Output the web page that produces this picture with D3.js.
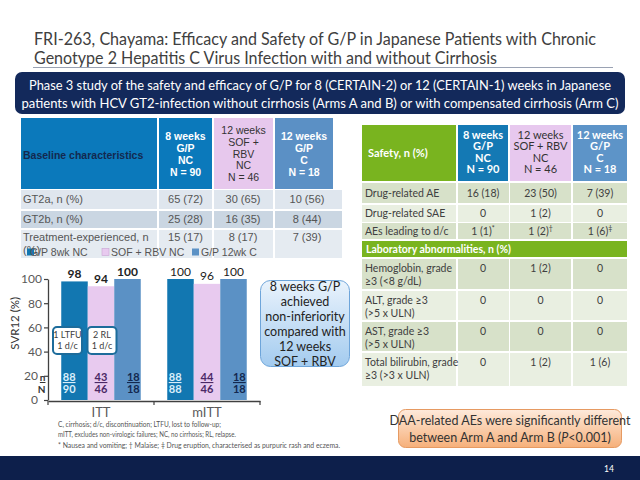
<!DOCTYPE html>
<html><head><meta charset="utf-8">
<script src="https://cdn.jsdelivr.net/npm/d3@7"></script>
<style>html,body{margin:0;padding:0;background:#fff}svg{display:block}</style>
</head><body>
<svg id="c" width="640" height="480"></svg>
<script>
// ---------------- DATA ----------------
const titleLines = ["FRI-263, Chayama: Efficacy and Safety of G/P in Japanese Patients with Chronic",
  "Genotype 2 Hepatitis C Virus Infection with and without Cirrhosis"];
const bannerLines = ["Phase 3 study of the safety and efficacy of G/P for 8 (CERTAIN-2) or 12 (CERTAIN-1) weeks in Japanese",
  "patients with HCV GT2-infection without cirrhosis (Arms A and B) or with compensated cirrhosis (Arm C)"];

const groups = ["ITT", "mITT"];
const arms = ["G/P 8wk NC", "SOF + RBV NC", "G/P 12wk C"];
const svrITT = [98, 94, 100];
const svrMITT = [100, 96, 100];
const nITT = [88, 43, 18];
const totalITT = [90, 46, 18];
const nMITT = [88, 44, 18];
const totalMITT = [88, 46, 18];
const yTicks = [0, 20, 40, 60, 80, 100];
const ittNotes = [["1 LTFU", "1 d/c"], ["2 RL", "1 d/c"]];
const calloutLines = ["8 weeks G/P", "achieved", "non-inferiority", "compared with", "12 weeks", "SOF + RBV"];

const baselineHeaders = [["Baseline characteristics"], ["8 weeks", "G/P", "NC", "N = 90"],
  ["12 weeks", "SOF +", "RBV", "NC", "N = 46"], ["12 weeks", "G/P", "C", "N = 18"]];
const baselineLabels = [["GT2a, n (%)"], ["GT2b, n (%)"], ["Treatment-experienced, n", "(%)"]];
const baselineGP8 = ["65 (72)", "25 (28)", "15 (17)"];
const baselineSOF = ["30 (65)", "16 (35)", "8 (17)"];
const baselineGP12 = ["10 (56)", "8 (44)", "7 (39)"];

const safetyHeaders = [["Safety, n (%)"], ["8 weeks", "G/P", "NC", "N = 90"],
  ["12 weeks", "SOF + RBV", "NC", "N = 46"], ["12 weeks", "G/P", "C", "N = 18"]];
const safetyLabels = [["Drug-related AE"], ["Drug-related SAE"], ["AEs leading to d/c"]];
const safetyGP8 = ["16 (18)", "0", "1 (1)"];
const safetySOF = ["23 (50)", "1 (2)", "1 (2)"];
const safetyGP12 = ["7 (39)", "0", "1 (6)"];
const safetyMarksGP8 = ["", "", "*"];
const safetyMarksSOF = ["", "", "†"];
const safetyMarksGP12 = ["", "", "‡"];
const labTitle = "Laboratory abnormalities, n (%)";
const labLabels = [["Hemoglobin, grade", "≥3 (<8 g/dL)"], ["ALT, grade ≥3", "(>5 x ULN)"],
  ["AST, grade ≥3", "(>5 x ULN)"], ["Total bilirubin, grade", "≥3 (>3 x ULN)"]];
const labGP8 = ["0", "0", "0", "0"];
const labSOF = ["1 (2)", "0", "0", "1 (2)"];
const labGP12 = ["0", "0", "0", "1 (6)"];

const footnotes = ["C, cirrhosis; d/c, discontinuation; LTFU, lost to follow-up;",
  "mITT, excludes non-virologic failures; NC, no cirrhosis; RL, relapse.",
  "* Nausea and vomiting; † Malaise; ‡ Drug eruption, characterised as purpuric rash and eczema."];
const pageNumber = "14";

// ---------------- DRAW ----------------
const CAL = "Lato, 'Open Sans', sans-serif";
const ARI = "'Liberation Sans', Arial, sans-serif";
const svg = d3.select("#c");
const defs = svg.append("defs");
function vgrad(id, c1, c2) {
  const g = defs.append("linearGradient").attr("id", id).attr("x1", 0).attr("y1", 0).attr("x2", 0).attr("y2", 1);
  g.append("stop").attr("offset", "0%").attr("stop-color", c1);
  g.append("stop").attr("offset", "100%").attr("stop-color", c2);
}
vgrad("gBlue", "#eaf3fc", "#a3cbef");
vgrad("gOrange", "#feeadb", "#f6b07a");

svg.append("rect").attr("width", 640).attr("height", 480).attr("fill", "#fff");

// Title
svg.selectAll("text.title").data(titleLines).join("text").attr("class", "title")
  .attr("x", 34).attr("y", (d, i) => 45 + i * 18.5)
  .attr("font-family", CAL).attr("font-size", 16.5).attr("fill", "#404040")
  .attr("textLength", (d, i) => [562, 463][i]).attr("lengthAdjust", "spacingAndGlyphs")
  .text(d => d);
svg.append("line").attr("x1", 33).attr("x2", 613).attr("y1", 67.5).attr("y2", 67.5)
  .attr("stroke", "#9aa2b3").attr("stroke-width", 1);

// Banner
svg.append("rect").attr("x", 15).attr("y", 72).attr("width", 610).attr("height", 42).attr("rx", 7)
  .attr("fill", "#13295b");
svg.selectAll("text.banner").data(bannerLines).join("text").attr("class", "banner")
  .attr("x", 320).attr("y", (d, i) => 90 + i * 17.5).attr("text-anchor", "middle")
  .attr("font-family", CAL).attr("font-size", 13).attr("fill", "#fff")
  .attr("textLength", (d, i) => [582, 597][i]).attr("lengthAdjust", "spacingAndGlyphs")
  .text(d => d);

// helper: multi-line text centered
function lines(g, arr, x, yc, lh, opts) {
  const t = g.append("text").attr("font-family", opts.font).attr("font-size", opts.size)
    .attr("fill", opts.fill).attr("font-weight", opts.weight || "normal")
    .attr("text-anchor", opts.anchor || "middle");
  const y0 = yc - (arr.length - 1) * lh / 2 + opts.size * 0.35;
  arr.forEach((s, i) => t.append("tspan").attr("x", x).attr("y", y0 + i * lh).text(s));
  return t;
}

// ---------- Left table ----------
const lt = svg.append("g");
const ltCols = [[21, 136], [159, 53], [214, 59], [275, 58]];
const ltHeadFill = ["#0b79bb", "#0b79bb", "#e7c8ed", "#5b90c5"];
const ltHeadText = ["#13294f", "#fff", "#333", "#fff"];
lt.selectAll("rect.h").data(baselineHeaders).join("rect").attr("class", "h")
  .attr("x", (d, i) => ltCols[i][0]).attr("y", 118).attr("width", (d, i) => ltCols[i][1]).attr("height", 71)
  .attr("fill", (d, i) => ltHeadFill[i]);
baselineHeaders.forEach((h, i) => {
  if (i === 0) lines(lt, h, 23, 155, 12, {font: ARI, size: 10.5, fill: ltHeadText[i], weight: "bold", anchor: "start"});
  else lines(lt, h, ltCols[i][0] + ltCols[i][1] / 2, i === 2 ? 154 : 154.5, 11.8,
    {font: ARI, size: 10.5, fill: ltHeadText[i], weight: i === 2 ? "normal" : "bold"});
});
const ltRows = [[190, 19], [211, 17], [230, 28]];
const ltRowFill = ["#dfe6ee", "#cad6e2", "#e5ebf1"];
const ltBodyCols = [[21, 136], [159, 53], [214, 59], [275, 67]];
const ltVals = [baselineGP8, baselineSOF, baselineGP12];
baselineLabels.forEach((lab, r) => {
  ltBodyCols.forEach((c, k) => lt.append("rect").attr("x", c[0]).attr("y", ltRows[r][0]).attr("width", c[1])
    .attr("height", ltRows[r][1]).attr("fill", ltRowFill[r]));
  const yc = r === 2 ? 237 : ltRows[r][0] + ltRows[r][1] / 2;
  lines(lt, lab, 23, r === 2 ? 243.5 : yc, 13.5, {font: ARI, size: 11, fill: "#555", anchor: "start"});
  ltVals.forEach((v, k) => lines(lt, [v[r]], [185.5, 243, 307][k], yc, 12, {font: ARI, size: 11, fill: "#555"}));
});
// legend
const color = d3.scaleOrdinal().domain(arms).range(["#1277b1", "#e8caef", "#5b91c5"]);
const legX = [27, 102, 192];
const leg = svg.append("g").selectAll("g").data(arms).join("g")
  .attr("transform", (d, i) => `translate(${legX[i]},252)`);
leg.append("rect").attr("x", 0).attr("y", -3.5).attr("width", 7).attr("height", 7)
  .attr("fill", d => color(d)).attr("stroke", (d, i) => i === 1 ? "#c9a3d2" : "none").attr("stroke-width", 0.6);
leg.append("text").attr("x", (d, i) => i === 0 ? 3 : 9).attr("y", 3.8)
  .attr("font-family", ARI).attr("font-size", 10.5).attr("fill", "#555").text(d => d);

// ---------- Chart ----------
const x0 = d3.scaleBand().domain(groups).range([48, 260]).padding(0);
const x1 = d3.scaleBand().domain(arms).range([0, x0.bandwidth()]).paddingInner(0).paddingOuter(0.5);
const y = d3.scaleLinear().domain([0, 100]).range([400, 279]);
const chartData = groups.map((g, gi) => ({
  group: g,
  values: arms.map((a, ai) => ({
    arm: a, ai,
    svr: gi === 0 ? svrITT[ai] : svrMITT[ai],
    n: gi === 0 ? nITT[ai] : nMITT[ai],
    N: gi === 0 ? totalITT[ai] : totalMITT[ai]
  }))
}));
const ch = svg.append("g");
const gg = ch.selectAll("g.grp").data(chartData).join("g").attr("class", "grp")
  .attr("transform", d => `translate(${x0(d.group)},0)`);
gg.selectAll("rect").data(d => d.values).join("rect")
  .attr("x", d => x1(d.arm)).attr("y", d => y(d.svr))
  .attr("width", x1.bandwidth()).attr("height", d => y(0) - y(d.svr))
  .attr("fill", d => color(d.arm));
gg.each(function (d, gi) {
  d3.select(this).selectAll("text.val").data(d.values).join("text").attr("class", "val")
    .attr("x", v => x1(v.arm) + x1.bandwidth() / 2).attr("y", v => y(v.svr) - 3.5)
    .attr("text-anchor", "middle").attr("font-family", CAL).attr("font-size", 12)
    .attr("font-weight", gi === 0 ? "bold" : "normal").attr("fill", "#222").text(v => v.svr);
});
const nnColor = ["#d9eefa", "#4b2866", "#13284f"];
const nnAnchor = ["start", "middle", "end"];
const nnX = v => v.ai === 0 ? x1(v.arm) + 1.5 : v.ai === 1 ? x1(v.arm) + x1.bandwidth() / 2 : x1(v.arm) + x1.bandwidth() - 1;
gg.selectAll("text.n").data(d => d.values).join("text").attr("class", "n")
  .attr("x", nnX).attr("y", 381).attr("text-anchor", v => nnAnchor[v.ai])
  .attr("font-family", CAL).attr("font-size", 11).attr("font-weight", "bold")
  .attr("fill", v => nnColor[v.ai]).attr("text-decoration", "underline").text(v => v.n);
gg.selectAll("text.N").data(d => d.values).join("text").attr("class", "N")
  .attr("x", nnX).attr("y", 393).attr("text-anchor", v => nnAnchor[v.ai])
  .attr("font-family", CAL).attr("font-size", 11).attr("font-weight", "bold")
  .attr("fill", v => nnColor[v.ai]).text(v => v.N);
ch.append("text").attr("x", 45.5).attr("y", 381).attr("text-anchor", "end").attr("font-family", CAL)
  .attr("font-size", 10).attr("font-weight", "bold").attr("fill", "#333").attr("text-decoration", "underline").text("n");
ch.append("text").attr("x", 45.5).attr("y", 393).attr("text-anchor", "end").attr("font-family", CAL)
  .attr("font-size", 10).attr("font-weight", "bold").attr("fill", "#333").text("N");

// axes
const yAx = ch.append("g").attr("transform", "translate(48,0)")
  .call(d3.axisLeft(y).tickValues(yTicks).tickSize(4).tickSizeOuter(0).tickPadding(2));
yAx.select(".domain").attr("stroke", "#404040").attr("stroke-width", 1.3);
yAx.selectAll(".tick line").attr("stroke", "#404040").attr("stroke-width", 1.2);
yAx.selectAll(".tick text").attr("font-family", CAL).attr("font-size", 12).attr("fill", "#595959")
  .attr("x", d => d <= 20 ? -10 : -6);
const xAx = ch.append("g").attr("transform", `translate(0,${y(0) + 1})`)
  .call(d3.axisBottom(x0).tickSize(0).tickPadding(7));
xAx.select(".domain").attr("stroke", "#404040").attr("stroke-width", 1.3);
xAx.selectAll(".tick text").attr("font-family", CAL).attr("font-size", 13).attr("fill", "#595959");
const bounds = groups.map(g => x0(g)).concat([x0.range()[1]]);
xAx.selectAll("line.bnd").data(bounds).join("line").attr("class", "bnd")
  .attr("x1", d => d).attr("x2", d => d).attr("y1", 0).attr("y2", 4)
  .attr("stroke", "#404040").attr("stroke-width", 1.2);
ch.append("text").attr("transform", `translate(19,${(y(40) + y(100)) / 2 + 8}) rotate(-90)`)
  .attr("text-anchor", "middle").attr("font-family", CAL).attr("font-size", 11.5).attr("fill", "#333")
  .text("SVR12 (%)");

// ITT notes
const noteOff = [-7, 1];
ittNotes.forEach((nt, i) => {
  const cx = x0("ITT") + x1(arms[i]) + x1.bandwidth() / 2 + noteOff[i];
  ch.append("rect").attr("x", cx - 14.5).attr("y", 327).attr("width", 29).attr("height", 27).attr("rx", 4)
    .attr("fill", "#fff").attr("stroke", "#1d6c9b").attr("stroke-width", 2);
  lines(ch, nt, cx, 340.5, 11, {font: CAL, size: 9, fill: "#404040"});
});

// callout
svg.append("rect").attr("x", 260.5).attr("y", 280.5).attr("width", 89).attr("height", 86).attr("rx", 10)
  .attr("fill", "url(#gBlue)").attr("stroke", "#6ea5da").attr("stroke-width", 1);
lines(svg, calloutLines, 305, 324.5, 15, {font: CAL, size: 12.5, fill: "#222"});

// ---------- Right table ----------
const rt = svg.append("g");
const rtCols = [[362, 94], [458, 50], [510, 61], [573, 54]];
const rtHeadFill = ["#79b41f", "#1479b4", "#e7c8ee", "#5d94c8"];
const rtHeadText = ["#fff", "#fff", "#333", "#fff"];
rt.selectAll("rect.h").data(safetyHeaders).join("rect").attr("class", "h")
  .attr("x", (d, i) => rtCols[i][0]).attr("y", 125).attr("width", (d, i) => rtCols[i][1]).attr("height", 56)
  .attr("fill", (d, i) => rtHeadFill[i]);
safetyHeaders.forEach((h, i) => {
  if (i === 0) lines(rt, h, 368, 153, 12, {font: CAL, size: 11, fill: "#fff", weight: "bold", anchor: "start"});
  else lines(rt, h, rtCols[i][0] + rtCols[i][1] / 2, 152, 11.5,
    {font: CAL, size: 11, fill: rtHeadText[i], weight: i === 2 ? "normal" : "bold"});
});
const rtFill = ["#d7e1c9", "#e9efe1"];
const rtBodyRows = [[183, 20], [205, 17], [223, 16]];
const sVals = [safetyGP8, safetySOF, safetyGP12];
const sMarks = [safetyMarksGP8, safetyMarksSOF, safetyMarksGP12];
const colCenters = rtCols.slice(1).map(c => c[0] + c[1] / 2);
function rtRow(top, h, fill) {
  rtCols.forEach(c => rt.append("rect").attr("x", c[0]).attr("y", top).attr("width", c[1] + (c[0] === 458 ? 1 : 0))
    .attr("height", h).attr("fill", fill));
}
safetyLabels.forEach((lab, r) => {
  const [top, h] = rtBodyRows[r];
  rtRow(top, h, rtFill[r % 2]);
  const yc = top + h / 2;
  lines(rt, lab, 365, yc, 12, {font: CAL, size: 10.5, fill: "#404040", anchor: "start"});
  sVals.forEach((v, k) => {
    const t = lines(rt, [v[r]], colCenters[k], yc, 12, {font: CAL, size: 10.5, fill: "#404040"});
    if (sMarks[k][r]) t.select("tspan").append("tspan").attr("dy", -4).attr("font-size", 7).text(sMarks[k][r]);
  });
});
rt.append("rect").attr("x", 362).attr("y", 241).attr("width", 265).attr("height", 16).attr("fill", "#79b41f");
lines(rt, [labTitle], 366, 249, 12, {font: CAL, size: 10.5, fill: "#fff", weight: "bold", anchor: "start"});
const labRows = [[259, 30], [291, 29], [322, 29], [353, 33]];
const lVals = [labGP8, labSOF, labGP12];
labLabels.forEach((lab, r) => {
  const [top, h] = labRows[r];
  rtRow(top, h, rtFill[r % 2]);
  lines(rt, lab, 365, top + 15.5, 13.3, {font: CAL, size: 10.5, fill: "#404040", anchor: "start"});
  lVals.forEach((v, k) => lines(rt, [v[r]], colCenters[k], top + 9.5, 12, {font: CAL, size: 10.5, fill: "#404040"}));
});

// orange box
svg.append("rect").attr("x", 398.5).attr("y", 409.5).attr("width", 223).attr("height", 38).attr("rx", 7)
  .attr("fill", "url(#gOrange)").attr("stroke", "#e69a62").attr("stroke-width", 1);
const ob = svg.append("text").attr("text-anchor", "middle").attr("font-family", CAL).attr("font-size", 12.5).attr("fill", "#333");
ob.append("tspan").attr("x", 510).attr("y", 424.5).text("DAA-related AEs were significantly different");
const l2 = ob.append("tspan").attr("x", 510).attr("y", 441.5);
l2.append("tspan").text("between Arm A and Arm B (");
l2.append("tspan").attr("font-style", "italic").text("P");
l2.append("tspan").text("<0.001)");

// footnotes
svg.selectAll("text.fn").data(footnotes).join("text").attr("class", "fn")
  .attr("x", 58).attr("y", (d, i) => 426.5 + i * 10.5)
  .attr("font-family", CAL).attr("font-size", 7).attr("fill", "#555")
  .attr("textLength", (d, i) => [163, 178, 282][i]).attr("lengthAdjust", "spacingAndGlyphs")
  .text(d => d);

// bottom band
svg.append("rect").attr("x", 0).attr("y", 456).attr("width", 640).attr("height", 24).attr("fill", "#0d1f4b");
svg.append("text").attr("x", 609).attr("y", 472).attr("text-anchor", "middle").attr("font-family", CAL)
  .attr("font-size", 8.5).attr("fill", "#fff").text(pageNumber);
</script>
</body></html>
